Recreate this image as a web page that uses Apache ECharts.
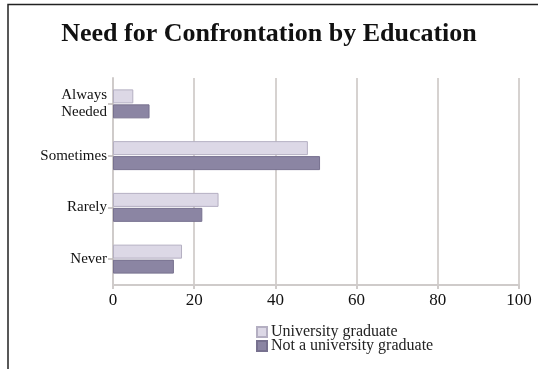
<!DOCTYPE html>
<html>
<head>
<meta charset="utf-8">
<script src="https://cdn.jsdelivr.net/npm/echarts@6/dist/echarts.min.js"></script>
<style>
  html, body { margin: 0; padding: 0; background: #fff; }
  #chart { width: 538px; height: 369px; }
</style>
</head>
<body>
<div id="chart"></div>
<script>
const categories = ["Always\nNeeded", "Sometimes", "Rarely", "Never"];
const universityGrad = [5, 48, 26, 17];
const notUniversityGrad = [9, 51, 22, 15];
const xTicks = [0, 20, 40, 60, 80, 100];

const chart = echarts.init(document.getElementById("chart"));
const serif = "Liberation Serif";

const option = {
  backgroundColor: "#fff",
  animation: false,
  title: {
    text: "Need for Confrontation by Education",
    left: "center",
    top: 16,
    textStyle: { fontFamily: serif, fontSize: 26, fontWeight: "bold", color: "#111" },
  },
  graphic: [
    {
      type: "polyline",
      shape: { points: [[8, 400], [8, 4.5], [560, 4.5]] },
      style: { stroke: "#222", lineWidth: 1.5, fill: null },
    },
  ],
  legend: {
    orient: "vertical",
    left: 251,
    top: 319,
    icon: "rect",
    itemWidth: 10,
    itemHeight: 10,
    itemGap: -2,
    textStyle: { fontFamily: serif, fontSize: 16, color: "#222", padding: [0, 0, 0, -1] },
    data: ["University graduate", "Not a university graduate"],
  },
  grid: { left: 113, right: 19, top: 78, bottom: 84 },
  xAxis: {
    type: "value",
    min: xTicks[0],
    max: xTicks[xTicks.length - 1],
    interval: 20,
    axisLine: { show: true, lineStyle: { color: "#cfcbca", width: 2 } },
    axisTick: { show: true, length: 4, lineStyle: { color: "#cfcbca", width: 2 } },
    splitLine: { show: true, lineStyle: { color: "#d6d2d0", width: 2 } },
    axisLabel: { fontFamily: serif, fontSize: 17, color: "#111", margin: 7 },
  },
  yAxis: {
    type: "category",
    inverse: true,
    data: categories,
    axisLine: { show: true, lineStyle: { color: "#cfcbca", width: 2 } },
    axisTick: { show: true, alignWithLabel: true, length: 5, lineStyle: { color: "#bdb8b7", width: 1.5 } },
    axisLabel: { fontFamily: serif, fontSize: 15, color: "#111", margin: 6, lineHeight: 17, align: "right" },
  },
  series: [
    {
      name: "University graduate",
      type: "bar",
      data: universityGrad,
      barWidth: 14,
      barGap: "7%",
      itemStyle: { color: "#dcd8e6", borderColor: "#b4afc2", borderWidth: 1 },
    },
    {
      name: "Not a university graduate",
      type: "bar",
      data: notUniversityGrad,
      barWidth: 14,
      itemStyle: { color: "#8b85a3", borderColor: "#77718f", borderWidth: 1 },
    },
  ],
};

chart.setOption(option);
window.addEventListener("resize", () => chart.resize());
</script>
</body>
</html>
